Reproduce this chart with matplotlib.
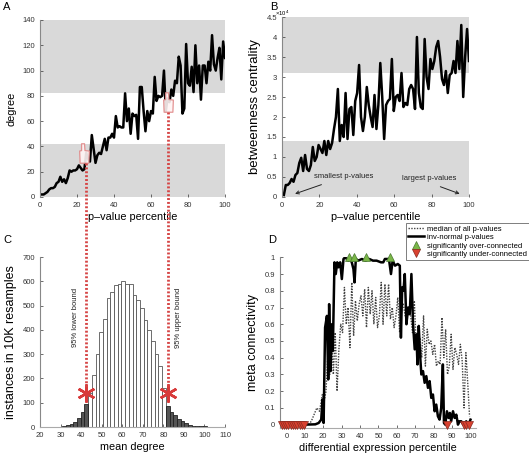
import numpy as np
import matplotlib
matplotlib.use("Agg")
import matplotlib.pyplot as plt
from matplotlib.lines import Line2D
from matplotlib.path import Path

plt.rcParams['font.family'] = ['Liberation Sans', 'DejaVu Sans']

# panel A: degree vs p-value percentile
deg = [2, 2, 3, 4, 6, 7, 7, 8, 11, 12, 16, 12, 14, 11, 15, 21, 20, 21, 21, 22,
       25, 23, 21, 22, 35, 30, 28, 49, 38, 27, 33, 35, 34, 40, 46, 37, 47, 47, 50, 47,
       64, 55, 56, 55, 55, 82, 60, 70, 50, 66, 64, 65, 46, 87, 87, 68, 52, 68, 60, 68,
       66, 95, 76, 80, 79, 80, 100, 68, 78, 75, 85, 80, 92, 90, 111, 104, 66, 70, 121, 90,
       88, 103, 83, 120, 90, 104, 77, 104, 104, 90, 107, 100, 128, 105, 100, 110, 118, 93, 123, 110]
deg_bands = [(0, 42), (82, 140)]

# panel B: betweenness (x1e4)
btw = [0.05, 0.3, 0.3, 0.35, 0.45, 0.38, 0.55, 0.6, 0.85, 0.98, 0.65, 1.05, 0.7, 0.65, 0.8,
       1.25, 0.9, 1.0, 1.3, 1.2, 1.1, 1.4, 1.05, 1.4, 1.2, 1.35, 1.7, 2.0, 2.7, 1.4,
       1.8, 1.5, 2.6, 1.45, 2.2, 2.25, 1.55, 2.4, 2.6, 3.3, 2.0, 1.65, 2.0, 2.75, 2.3,
       2.0, 1.75, 2.55, 1.7, 2.3, 3.35, 2.5, 1.45, 2.3, 2.4, 2.45, 3.45, 2.15, 2.5, 2.55,
       2.4, 3.1, 2.25, 2.35, 2.3, 2.7, 2.8, 2.7, 2.2, 4.0, 2.6, 2.25, 2.2, 3.95, 3.0,
       2.7, 3.45, 3.2, 3.4, 3.75, 3.9, 3.5, 2.95, 2.8, 3.15, 2.6, 3.05, 3.1, 3.4, 3.1,
       3.9, 3.2, 4.3, 2.5, 3.5, 4.2, 3.4]
btw_bands = [(0, 1.4), (3.1, 4.5)]

# panel C: histogram of mean degree
bin_left = [29.0, 30.8, 32.6, 34.4, 36.2, 38.0, 39.8, 41.6, 43.4, 45.2, 47.0, 48.8, 50.6, 52.4,
            54.2, 56.0, 57.8, 59.6, 61.4, 63.2, 65.0, 66.8, 68.6, 70.4, 72.2, 74.0, 75.8,
            77.6, 79.4, 81.2, 83.0, 84.8, 86.6, 88.4, 90.2, 92.0, 93.8, 95.6, 97.4, 99.2,
            101.0, 102.8]
counts = [2, 4, 7, 12, 20, 38, 60, 95, 140, 215, 300, 390, 445, 530, 555, 585, 590, 600, 590,
          590, 545, 525, 490, 440, 400, 355, 300, 250, 160, 85, 62, 50, 35, 25, 15, 10, 6, 5,
          4, 3, 2, 1]
lower_bound, upper_bound = 42.5, 82.5

# panel D: meta connectivity
inv_x = [-2, 0, 5, 10, 15.7, 17.5, 18.9, 19.6, 20.2, 21, 22, 22.7, 23.2, 24, 24.7, 25.2,
         26.1, 26.8, 27.6, 28.3, 29.2, 30.1, 31, 31.9, 32.8, 33.7, 34.6, 35.5, 36.4, 37, 37.7,
         39, 41, 43, 45, 47, 49, 51.4, 52.6, 53.5, 55.7, 56.8, 57.7, 59, 60.5, 61.6,
         62.2, 62.9, 63.6, 64.3, 65.2, 66.1, 67, 67.9, 68.8, 69.7, 70.6, 71.2, 71.9, 72.6,
         73.3, 74.2, 75.1, 76, 76.9, 77.8, 78.7, 79.6, 80.5, 81.4, 82.3, 83.2, 84.1, 85,
         85.6, 86.3, 87.2, 88.1, 88.8, 89.5, 90.5, 91.4, 92.3, 93.2, 94, 95, 96.2, 97.7,
         98.9, 100]
inv_y = [0, 0, 0, 0, 0.002, 0.01, 0.03, 0.15, 0.01, 0.58, 0.65, 0.27, 0.72, 0.32, 0.6, 0.44,
         0.97, 0.9, 0.97, 0.94, 0.97, 0.87, 0.99, 1.0, 0.99, 0.98, 0.99, 0.97, 0.93, 0.85, 0.99,
         0.98, 0.99, 0.98, 0.99, 0.98, 0.98, 0.97, 0.97, 0.99, 0.99, 0.9, 0.98, 0.95, 0.96, 0.95,
         0.52, 0.82, 0.8, 0.9, 0.6, 0.7, 0.66, 0.9, 0.6, 0.45, 0.54, 0.36, 0.59, 0.42,
         0.3, 0.32, 0.25, 0.29, 0.22, 0.26, 0.16, 0.18, 0.08, 0.12, 0.05, 0.03, 0.1, 0.36,
         0.01, 0.0, 0.08, 0.04, 0.07, 0.02, 0.08, 0.04, 0.06, 0.0, 0.02, 0.02, 0.0, 0.02,
         0.0, 0.03]
med_x = [12, 13.5, 15, 16.5, 18, 19.5] + list(np.arange(20.5, 100, 1.0))
med_y = [0, 0.02, 0.06, 0.1, 0.08, 0.18,
         0.14, 0.2, 0.42, 0.3, 0.52, 0.3, 0.55, 0.2, 0.45, 0.6, 0.55, 0.82, 0.6, 0.7, 0.46,
         0.85, 0.53, 0.74, 0.62, 0.72, 0.77, 0.65, 0.81, 0.58, 0.82, 0.66, 0.8, 0.6, 0.76,
         0.58, 0.65, 0.85, 0.6, 0.84, 0.65, 0.84, 0.63, 0.7, 0.58, 0.65, 0.76, 0.55, 0.7,
         0.72, 0.65, 0.62, 0.7, 0.65, 0.55, 0.74, 0.47, 0.45, 0.52, 0.4, 0.65, 0.35, 0.57,
         0.48, 0.5, 0.42, 0.48, 0.35, 0.38, 0.36, 0.64, 0.4, 0.57, 0.3, 0.35, 0.54, 0.33,
         0.46, 0.42, 0.36, 0.48, 0.38, 0.1, 0.43, 0.25, 0.05]
over_x = [34, 36.5, 43.5, 56]
under_x = [-2.5, -1.3, -0.1, 1.1, 2.3, 3.5, 4.7, 5.9, 7.1, 8.3, 9.5, 87, 96.5, 97.5, 99]

W, H = 529, 454
fig = plt.figure(figsize=(W / 100, H / 100), dpi=100)

def box(l, t, r, b):
    return [l / W, 1 - b / H, (r - l) / W, (b - t) / H]

def style(ax, bottom=False):
    for s in ['top', 'right']:
        ax.spines[s].set_visible(False)
    ax.spines['left'].set_color('#888888')
    ax.spines['bottom'].set_color('#aaaaaa')
    ax.spines['bottom'].set_visible(bottom)
    ax.tick_params(labelsize=5.5, length=2, direction='in', colors='#333333', width=0.5)

tfs = 7.8
shade = '#d9d9d9'

# simple pointing-hand outline used as a marker
hand = Path([(-0.45, -1.0), (0.45, -1.0), (0.5, 0.25), (0.05, 0.3), (0.0, 1.0),
             (-0.3, 1.0), (-0.3, 0.3), (-0.5, 0.25), (-0.45, -1.0)],
            [Path.MOVETO] + [Path.LINETO] * 7 + [Path.CLOSEPOLY])

# A
axA = fig.add_axes(box(40, 20, 225, 197))
x100 = np.arange(1, 101)
for lo, hi in deg_bands:
    axA.axhspan(lo, hi, color=shade, lw=0, zorder=0)
axA.plot(x100, deg, color='black', lw=1.8)
axA.set_xlim(0, 100)
axA.set_ylim(0, 140)
axA.set_xticks(range(0, 101, 20))
axA.set_yticks(range(0, 141, 20))
axA.set_xlabel('p\u2013value percentile', fontsize=tfs, labelpad=2)
axA.set_ylabel('degree', fontsize=tfs, labelpad=4)
style(axA)
axA.plot([24, 69], [34.5, 75], linestyle='none', marker=hand, ms=14, mfc='#fff4f4',
         mec='#e08888', mew=0.9, alpha=0.9, zorder=8)

# B
axB = fig.add_axes(box(282, 17, 469, 197))
xb = np.linspace(1, 100, len(btw))
for lo, hi in btw_bands:
    axB.axhspan(lo, hi, color=shade, lw=0, zorder=0)
axB.plot(xb, btw, color='black', lw=1.8)
axB.set_xlim(0, 100)
axB.set_ylim(0, 4.5)
axB.set_xticks(range(0, 101, 20))
axB.set_yticks(np.arange(0, 4.51, 0.5))
axB.set_yticklabels(['0', '0.5', '1', '1.5', '2', '2.5', '3', '3.5', '4', '4.5'])
axB.set_xlabel('p\u2013value percentile', fontsize=tfs, labelpad=2)
axB.set_ylabel('betweenness centrality', fontsize=9.5, labelpad=4)
style(axB)
axB.text(-0.035, 0.995, '\u00d710$^4$', transform=axB.transAxes, fontsize=4.2, ha='left', va='bottom')
axB.annotate('smallest p-values', xy=(7, 0.08), xytext=(17, 0.5), fontsize=5.5,
             ha='left', va='center', color='#222222',
             arrowprops=dict(arrowstyle='->', color='#222222', lw=0.7, shrinkA=3, shrinkB=0))
axB.annotate('largest p-values', xy=(95, 0.08), xytext=(64, 0.45), fontsize=5.5,
             ha='left', va='center', color='#222222',
             arrowprops=dict(arrowstyle='->', color='#222222', lw=0.7, shrinkA=3, shrinkB=0,
                             relpos=(0.5, 0.0)))

# C
axC = fig.add_axes(box(40, 257, 225, 427))
bl = np.array(bin_left)
cn = np.array(counts)
dark = (bl + 1.8 <= 43.5) | (bl >= 81.0)
axC.bar(bl[~dark], cn[~dark], width=1.8, align='edge', color='white', edgecolor='#555555', lw=0.6)
axC.bar(bl[dark], cn[dark], width=1.8, align='edge', color='#555555', edgecolor='#222222', lw=0.6)
axC.set_xlim(20, 110)
axC.set_ylim(0, 700)
axC.set_xticks(range(20, 111, 10))
axC.set_yticks(range(0, 701, 100))
axC.set_xlabel('mean degree', fontsize=tfs, labelpad=2)
axC.set_ylabel('instances in 10K resamples', fontsize=9, labelpad=4)
style(axC, bottom=True)
for xv in (lower_bound, upper_bound):
    axC.plot([xv], [140], marker=(6, 2, 0), ms=13, mew=1.8, color='#d83a3a', zorder=5)
axC.text(37.5, 450, '95% lower bound', rotation=90, fontsize=5.5, ha='center', va='center', color='#222222')
axC.text(87.5, 450, '95% upper bound', rotation=90, fontsize=5.5, ha='center', va='center', color='#222222')

# red dotted connectors from A to C (figure-level lines)
inv = fig.transFigure.inverted()
for xv, ytop in ((lower_bound, 27), (upper_bound, 67)):
    xd, yb = axC.transData.transform((xv, 160))
    _, yt = axA.transData.transform((0, ytop))
    p0 = inv.transform((xd, yt))
    p1 = inv.transform((xd, yb))
    fig.add_artist(Line2D([p0[0], p1[0]], [p0[1], p1[1]], transform=fig.transFigure,
                          color='#d64545', lw=2.0, linestyle=(0, (0.7, 0.7)), zorder=10))

# D
axD = fig.add_axes(box(280, 257.3, 476, 428))
axD.plot(med_x, med_y, color='#444444', lw=1.0, linestyle=(0, (1, 1)),
         label='median of all p-values')
axD.plot(inv_x, inv_y, color='black', lw=1.8, label='inv-normal p-values')
axD.plot(over_x, [1.0] * len(over_x), linestyle='none', marker='^', ms=6, mfc='#7ab648',
         mec='#4a7a30', mew=0.5, clip_on=False, zorder=6, label='significantly over-connected')
axD.plot(under_x, [0.0] * len(under_x), linestyle='none', marker='v', ms=6, mfc='#d9412f',
         mec='#8a2a20', mew=0.5, clip_on=False, zorder=6, label='significantly under-connected')
axD.set_xlim(-3.5, 103)
axD.set_ylim(-0.02, 1.0)
axD.set_xticks(range(0, 101, 10))
axD.set_yticks(np.arange(0, 1.01, 0.1))
axD.set_yticklabels(['0', '0.1', '0.2', '0.3', '0.4', '0.5', '0.6', '0.7', '0.8', '0.9', '1'])
axD.set_xlabel('differential expression percentile', fontsize=tfs, labelpad=2)
axD.set_ylabel('meta connectivity', fontsize=9, labelpad=4)
style(axD, bottom=True)
leg = axD.legend(loc='upper left', bbox_to_anchor=(406 / W, 1 - 223 / H), bbox_transform=fig.transFigure,
                 fontsize=5.5, frameon=True, fancybox=False, handlelength=2.0, handletextpad=0.5,
                 borderpad=0.3, labelspacing=0.15, borderaxespad=0)
leg.get_frame().set_edgecolor('#444444')
leg.get_frame().set_linewidth(0.6)

# panel letters
for lbl, (px, py) in zip('ABCD', [(3, 7), (270, 7), (3, 240), (268, 240)]):
    fig.text(px / W, 1 - py / H, lbl, fontsize=8, ha='left', va='center')

fig.savefig('out.png', dpi=100)
